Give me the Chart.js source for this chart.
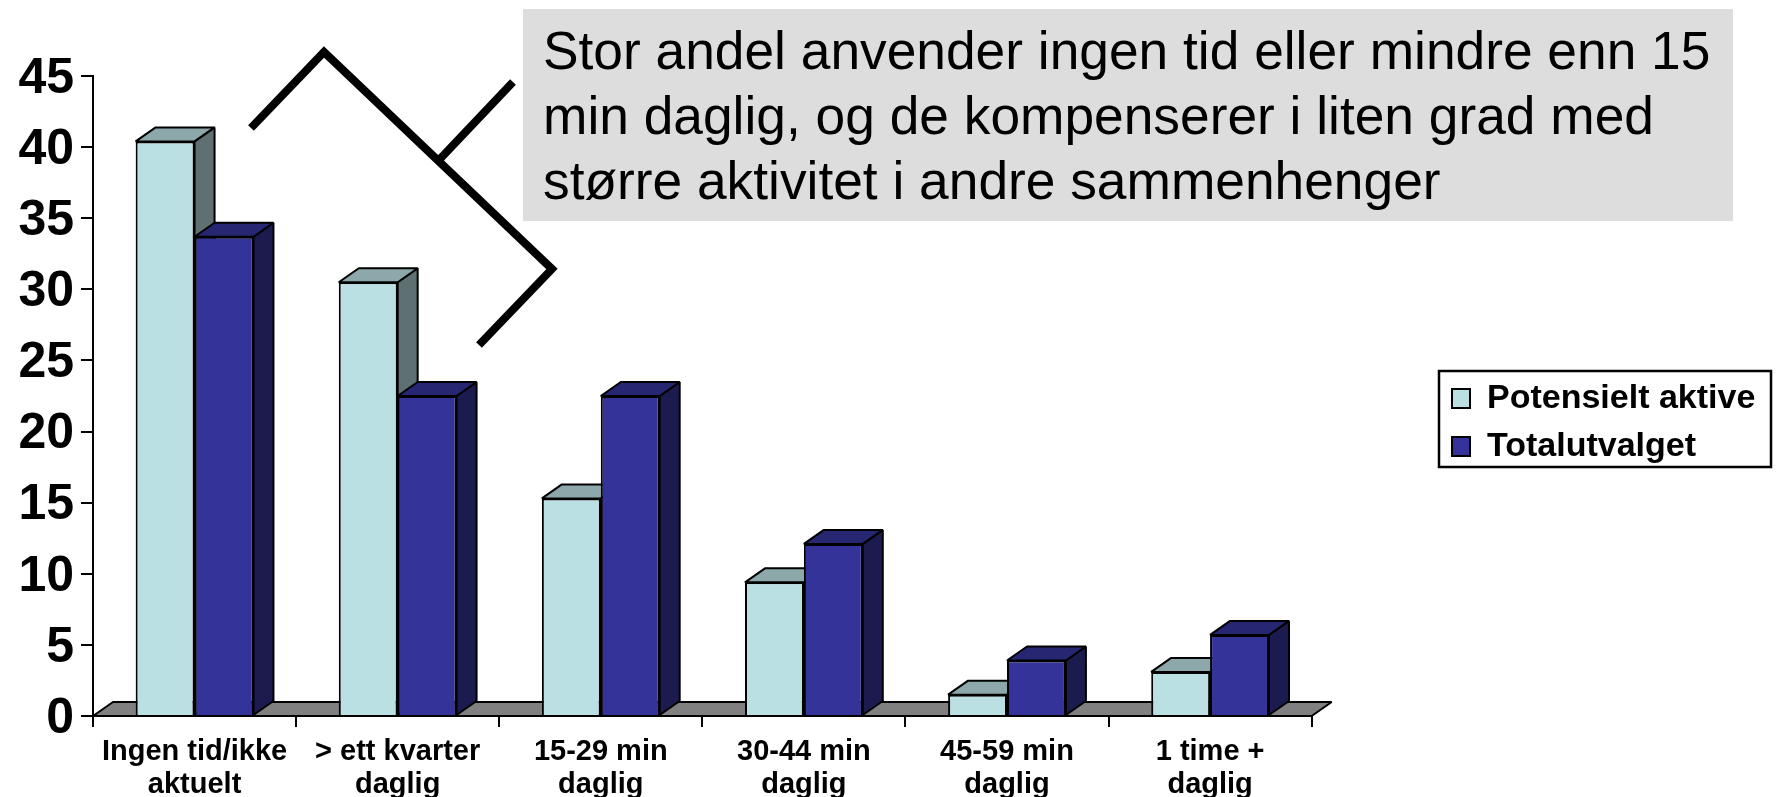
<!DOCTYPE html>
<html>
<head>
<meta charset="utf-8">
<script src="https://cdn.jsdelivr.net/npm/chart.js@4/dist/chart.umd.min.js"></script>
<style>
    html, body { margin: 0; padding: 0; background: #fff; }
    #wrap { position: relative; width: 1780px; height: 797px; overflow: hidden; }
    canvas { display: block; }
    #note {
        position: absolute; left: 523px; top: 9px; width: 1210px; height: 212px;
        background: #ddd; color: #000; box-sizing: border-box; padding: 9px 0 0 20px;
        font: 53.3px/65px "Liberation Sans", sans-serif; white-space: nowrap;
    }
</style>
</head>
<body>
<div id="wrap">
    <canvas id="chart" width="1780" height="797"></canvas>
    <div id="note">Stor andel anvender ingen tid eller mindre enn 15<br>min daglig, og de kompenserer i liten grad med<br>større aktivitet i andre sammenhenger</div>
</div>
<script>
const categories = [
    ['Ingen tid/ikke', 'aktuelt'],
    ['> ett kvarter', 'daglig'],
    ['15-29 min', 'daglig'],
    ['30-44 min', 'daglig'],
    ['45-59 min', 'daglig'],
    ['1 time +', 'daglig'],
]
const potensielt_aktive = [40.4, 30.5, 15.3, 9.4, 1.5, 3.1]
const totalutvalget = [33.7, 22.5, 22.5, 12.1, 3.9, 5.7]

const FONT = '"Liberation Sans", sans-serif'
const DEPTH_X = 20
const DEPTH_Y = 14

// top and side colours of the 3d bars, by dataset
const FACES = [
    { top: '#8ca8aa', side: '#5f7072' },
    { top: '#262673', side: '#1b1b4f' },
]

function fill_face (ctx, points, colour) {
    ctx.beginPath()
    points.forEach(([ x, y ], i) => (i ? ctx.lineTo(x, y) : ctx.moveTo(x, y)))
    ctx.closePath()
    ctx.fillStyle = colour
    ctx.fill()
    ctx.stroke()
}

const pseudo_3d = {
    id: 'pseudo_3d',
    afterLayout (chart) {
        // the legend sits away from the plot, so move it once the plot is laid out
        const legend = chart.legend
        legend.left = 1438
        legend.right = 1780
        legend.top = 367.5
        legend.bottom = 797
    },
    beforeDraw (chart) {
        // y labels sit a little under their ticks
        for (const item of chart.scales.y.getLabelItems()) item.textOffset = 3
    },
    beforeDatasetsDraw (chart) {
        const { ctx, chartArea: { left, right, bottom } } = chart
        ctx.save()
        ctx.strokeStyle = '#000'
        ctx.lineWidth = 2
        ctx.lineJoin = 'bevel'
        fill_face(ctx, [
            [ left, bottom ],
            [ left + DEPTH_X, bottom - DEPTH_Y ],
            [ right + DEPTH_X, bottom - DEPTH_Y ],
            [ right, bottom ],
        ], '#808080')

        // chart.js paints the fronts last dataset first, so all faces go in here
        FACES.forEach((faces, index) => {
            for (const bar of chart.getDatasetMeta(index).data) {
                const { x, y, base, width } = bar.getProps([ 'x', 'y', 'base', 'width' ], true)
                const x0 = x - width / 2
                const x1 = x + width / 2
                fill_face(ctx, [
                    [ x1, y ],
                    [ x1 + DEPTH_X, y - DEPTH_Y ],
                    [ x1 + DEPTH_X, base - DEPTH_Y ],
                    [ x1, base ],
                ], faces.side)
                fill_face(ctx, [
                    [ x0, y ],
                    [ x0 + DEPTH_X, y - DEPTH_Y ],
                    [ x1 + DEPTH_X, y - DEPTH_Y ],
                    [ x1, y ],
                ], faces.top)
            }
        })
        ctx.restore()
    },
    afterDraw (chart) {
        const { ctx } = chart
        ctx.save()
        // legend frame
        ctx.strokeStyle = '#000'
        ctx.lineWidth = 2.5
        ctx.strokeRect(1439, 371, 332, 96)
        // bracket next to the note
        ctx.lineWidth = 8
        ctx.lineJoin = 'miter'
        ctx.beginPath()
        ctx.moveTo(251, 128)
        ctx.lineTo(324, 52)
        ctx.lineTo(552, 269)
        ctx.lineTo(479, 345)
        ctx.moveTo(439, 160)
        ctx.lineTo(513, 82)
        ctx.stroke()
        ctx.restore()
    },
}

new Chart(document.getElementById('chart').getContext('2d'), {
    type: 'bar',
    plugins: [ pseudo_3d ],
    data: {
        labels: categories,
        datasets: [
            {
                label: 'Potensielt aktive',
                data: potensielt_aktive,
                backgroundColor: '#bae0e3',
                borderColor: '#000',
                borderWidth: 2,
                clip: false,
            },
            {
                label: 'Totalutvalget',
                data: totalutvalget,
                backgroundColor: '#333399',
                borderColor: '#000',
                borderWidth: 2,
                clip: false,
            },
        ],
    },
    options: {
        responsive: false,
        animation: false,
        events: [],
        layout: { padding: { top: 76, left: 0, right: 141, bottom: 0 } },
        categoryPercentage: 0.58,
        barPercentage: 1,
        plugins: {
            title: { display: false },
            tooltip: { enabled: false },
            legend: {
                display: true,
                position: 'right',
                align: 'start',
                labels: {
                    boxWidth: 18,
                    boxHeight: 19,
                    padding: 14,
                    color: '#000',
                    font: { family: FONT, size: 34, weight: 'bold' },
                },
            },
        },
        scales: {
            x: {
                afterFit (scale) { scale.height = 81 },
                border: { color: '#000', width: 2 },
                grid: { drawOnChartArea: false, color: '#000', lineWidth: 2, tickLength: 11, offset: true },
                ticks: {
                    color: '#000',
                    autoSkip: false,
                    maxRotation: 0,
                    padding: 8,
                    font: { family: FONT, size: 29, weight: 'bold', lineHeight: 1.14 },
                },
            },
            y: {
                min: 0,
                max: 45,
                afterFit (scale) { scale.width = 93 },
                border: { color: '#000', width: 2 },
                grid: { drawOnChartArea: false, color: '#000', lineWidth: 2, tickLength: 12 },
                ticks: {
                    stepSize: 5,
                    color: '#000',
                    padding: 7,
                    font: { family: FONT, size: 50, weight: 'bold' },
                },
            },
        },
    },
})
</script>
</body>
</html>
